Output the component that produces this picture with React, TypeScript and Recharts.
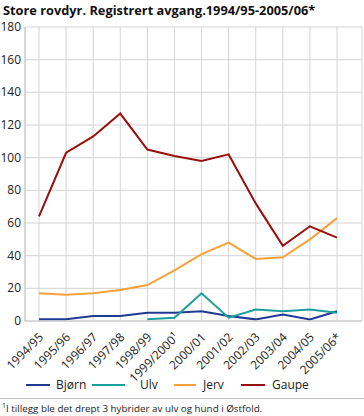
import React from "react";
import { LineChart, Line, XAxis, YAxis, CartesianGrid } from "recharts";

const categories = ["1994/95", "1995/96", "1996/97", "1997/98", "1998/99", "1999/2000¹", "2000/01", "2001/02", "2002/03", "2003/04", "2004/05", "2005/06*"];
const bjorn = [1, 1, 3, 3, 5, 5, 6, 3, 1, 4, 1, 6];
const ulv = [null, null, null, null, 1, 2, 17, 2, 7, 6, 7, 5];
const jerv = [17, 16, 17, 19, 22, 31, 41, 48, 38, 39, 50, 63];
const gaupe = [64, 103, 113, 127, 105, 101, 98, 102, 72, 46, 58, 51];
const yTicks = [0, 20, 40, 60, 80, 100, 120, 140, 160, 180];

const series = [
  { key: "Bjørn", values: bjorn, color: "#1f3a93" },
  { key: "Ulv", values: ulv, color: "#1a9e9e" },
  { key: "Jerv", values: jerv, color: "#f7a13a" },
  { key: "Gaupe", values: gaupe, color: "#990f0f" },
];

const data = categories.map((c, i) => {
  const row: any = { cat: c };
  series.forEach((s) => (row[s.key] = s.values[i]));
  return row;
});

const FONT = "'Open Sans', 'DejaVu Sans', sans-serif";

const XTick = (props: any) => {
  const { x, y, payload } = props;
  const tx = x + 5;
  const ty = y + 9;
  return (
    <text x={tx} y={ty} transform={`rotate(-45, ${tx}, ${ty})`} textAnchor="end" fontSize={12} fill="#222" fontFamily={FONT}>
      {payload.value}
    </text>
  );
};

const YTick = (props: any) => {
  const { y, payload } = props;
  return (
    <text x={21} y={y + 4} textAnchor="end" fontSize={12} fill="#222" fontFamily={FONT}>
      {payload.value}
    </text>
  );
};

const legendPos = [
  { lx: 26, lw: 24, tx: 56 },
  { lx: 92, lw: 33, tx: 140 },
  { lx: 174, lw: 22, tx: 203 },
  { lx: 241, lw: 24, tx: 272 },
];

export default function App() {
  return (
    <div style={{ position: "absolute", left: 0, top: 0, width: 364, height: 416, background: "#fff", fontFamily: FONT }}>
      <div style={{ position: "absolute", left: 3, top: 2, fontSize: 12.8, lineHeight: "16px", fontWeight: 700, color: "#111", whiteSpace: "nowrap" }}>
        Store rovdyr. Registrert avgang.1994/95-2005/06*
      </div>
      <div style={{ position: "absolute", left: 0, top: 0 }}>
        <LineChart width={364} height={394} data={data} margin={{ top: 27, right: 2, left: 0, bottom: 14 }}>
          <CartesianGrid stroke="#d4d4d4" strokeWidth={1} />
          <XAxis
            dataKey="cat"
            interval={0}
            padding={{ left: 14, right: 25 }}
            tick={<XTick />}
            tickLine={false}
            axisLine={{ stroke: "#c8c8c8" }}
            height={59}
          />
          <YAxis
            width={25}
            domain={[0, 180]}
            ticks={yTicks}
            tick={<YTick />}
            tickLine={false}
            axisLine={{ stroke: "#c8c8c8" }}
          />
          {series.map((s) => (
            <Line key={s.key} type="linear" dataKey={s.key} stroke={s.color} strokeWidth={2} dot={false} isAnimationActive={false} />
          ))}
        </LineChart>
      </div>
      {series.map((s, i) => (
        <React.Fragment key={s.key}>
          <div style={{ position: "absolute", left: legendPos[i].lx, top: 384, width: legendPos[i].lw, height: 2, background: s.color }} />
          <div style={{ position: "absolute", left: legendPos[i].tx, top: 376, fontSize: 12, color: "#222", whiteSpace: "nowrap" }}>{s.key}</div>
        </React.Fragment>
      ))}
      <div style={{ position: "absolute", left: 0, top: 398, width: 364, height: 1, background: "#bbb" }} />
      <div style={{ position: "absolute", left: 2, top: 401, fontSize: 9.8, color: "#222", whiteSpace: "nowrap" }}>
        <sup style={{ fontSize: 7 }}>1</sup>I tillegg ble det drept 3 hybrider av ulv og hund i Østfold.
      </div>
    </div>
  );
}
